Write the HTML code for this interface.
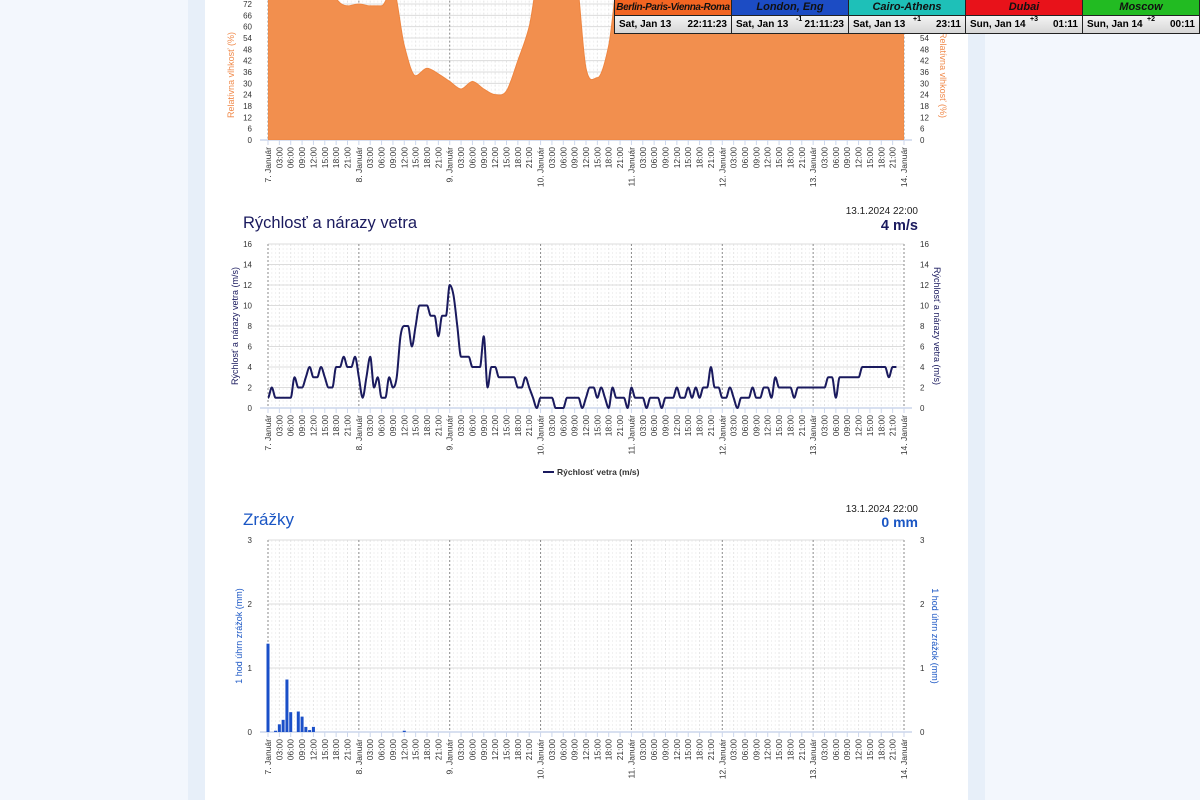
<!DOCTYPE html>
<html><head><meta charset="utf-8">
<style>
html,body{margin:0;padding:0;width:1200px;height:800px;overflow:hidden;background:#f3f7fd;font-family:"Liberation Sans",sans-serif}
#strip{position:absolute;left:188px;top:0;width:797px;height:800px;background:#e7eff9}
#panel{position:absolute;left:205px;top:0;width:763px;height:800px;background:#fff}
svg{position:absolute;left:0;top:0}
#tz{position:absolute;left:614px;top:0;width:586px;height:34px;border:1px solid #222;border-top:none;box-sizing:border-box;display:flex;background:#222}
.col{flex:1;margin-right:1px;display:flex;flex-direction:column}
.col:last-child{margin-right:0}
.hd{height:15px;font:italic bold 11px "Liberation Sans",sans-serif;text-align:center;line-height:15px;color:#111;white-space:nowrap;overflow:hidden}
.rw{flex:1;margin-top:1px;background:linear-gradient(#f4f4f4,#d6d6d6);font:bold 10px "Liberation Sans",sans-serif;display:flex;justify-content:space-between;align-items:center;padding:0 4px;position:relative}
.rw sup{position:absolute;left:64px;top:0;font-size:7px}
</style></head><body>
<div id="strip"></div>
<div id="panel"></div>
<svg id="svg" width="1200" height="800"></svg>
<div id="tz">
 <div class="col"><div class="hd" style="background:#f26522;font-size:10px;letter-spacing:-0.4px">Berlin-Paris-Vienna-Roma</div><div class="rw"><span>Sat, Jan 13</span><span>22:11:23</span></div></div>
 <div class="col"><div class="hd" style="background:#1c4cc4">London, Eng</div><div class="rw"><span>Sat, Jan 13</span><sup>-1</sup><span>21:11:23</span></div></div>
 <div class="col"><div class="hd" style="background:#1ec0b8">Cairo-Athens</div><div class="rw"><span>Sat, Jan 13</span><sup>+1</sup><span>23:11</span></div></div>
 <div class="col"><div class="hd" style="background:#e8121a">Dubai</div><div class="rw"><span>Sun, Jan 14</span><sup>+3</sup><span>01:11</span></div></div>
 <div class="col"><div class="hd" style="background:#22bb22">Moscow</div><div class="rw"><span>Sun, Jan 14</span><sup>+2</sup><span>00:11</span></div></div>
</div>
<script>
// humidity every 3 hours from 7 Jan 00:00
const humidity3h=[90,90,90,90,90,90,75,71,72,71,71,80,50,34,38,35,31,27,31,27,24,26,42,60,90,90,90,90,38,33,50,90,90,90,90,90,90,90,90,90,90,90,90,90,90,90,90,90,90,90,90,90,90,90,90,90,90];
// wind speed hourly
const windSpeed=[1,2,1,1,1,1,1,3,2,2,3,4,3,3,4,3,2,2,4,4,5,4,4,5,
3,1,3,5,2,3,1,1,3,2,3,7,8,8,6,8,10,10,10,9,9,7,9,9,
12,11,8,5,5,5,4,4,4,7,2,4,4,3,3,3,3,3,2,2,3,2,1,0,
1,1,1,1,0,0,0,1,1,1,1,0,1,2,2,1,2,1,0,2,1,1,1,0,
2,1,1,1,0,1,1,1,0,1,1,1,2,1,1,2,1,2,1,2,2,4,2,2,
1,1,2,1,0,1,1,1,2,1,1,2,2,1,3,2,2,2,2,1,2,2,2,2,2,2,2,2,
3,3,1,3,3,3,3,3,3,4,4,4,4,4,4,4,3,4,4];
// precipitation: hour index and mm
const precipHours=[0,2,3,4,5,6,8,9,10,11,12,36];
const precipValues=[1.38,0.02,0.12,0.19,0.82,0.31,0.32,0.24,0.08,0.03,0.08,0.02];
const humTicks=[0,6,12,18,24,30,36,42,48,54,60,66,72,78];
const windTicks=[0,2,4,6,8,10,12,14,16];
const precipTicks=[0,1,2,3];

const NS='http://www.w3.org/2000/svg';
const svg=document.getElementById('svg');
const X0=268,X1=904,HPX=(X1-X0)/168;
const hourX=h=>X0+h*HPX;
function el(tag,attrs,parent){const e=document.createElementNS(NS,tag);for(const k in attrs)e.setAttribute(k,attrs[k]);(parent||svg).appendChild(e);return e;}
function txt(s,attrs,parent){const e=el('text',attrs,parent);e.textContent=s;return e;}
function smooth(p){const n=p.length;const m=[];
  for(let i=0;i<n;i++){if(i===0||i===n-1){m.push(0);continue;}
    const a=(p[i][1]-p[i-1][1])/(p[i][0]-p[i-1][0]),b=(p[i+1][1]-p[i][1])/(p[i+1][0]-p[i][0]);
    m.push(a*b<=0?0:(a+b)/2);}
  let d='M'+p[0][0]+','+p[0][1];
  for(let i=0;i<n-1;i++){const dx=(p[i+1][0]-p[i][0])/3;
    d+=' C'+(p[i][0]+dx)+','+(p[i][1]+m[i]*dx)+' '+(p[i+1][0]-dx)+','+(p[i+1][1]-m[i+1]*dx)+' '+p[i+1][0]+','+p[i+1][1];}
  return d;}
function axes(name,top,bottom,ticks){
  const g=el('g',{});
  
  
  const max=ticks[ticks.length-1];
  const y=v=>bottom-v/max*(bottom-top);
  for(let h=0;h<=168;h++){if(h%24===0)continue;el('line',{x1:hourX(h),x2:hourX(h),y1:top,y2:bottom,stroke:h%3===0?'#e4e4e4':'#f1f1f1','stroke-dasharray':'2,2'},g);}
  ticks.forEach(v=>{el('line',{x1:X0,x2:X1,y1:y(v),y2:y(v),stroke:'#dcdcdc'},g);
    const l=txt(String(v),{x:252,y:y(v)+3,'font-size':8,'text-anchor':'end',fill:'#333'},g);
    
    const r=txt(String(v),{x:920,y:y(v)+3,'font-size':8,fill:'#333'},g);
    });
  for(let d=0;d<=7;d++)el('line',{x1:hourX(d*24),x2:hourX(d*24),y1:top,y2:bottom,stroke:'#8a8a8a','stroke-dasharray':'2,2'},g);
  el('line',{x1:X0-8,x2:X1+8,y1:bottom,y2:bottom,stroke:'#ccd6eb','stroke-width':1.5},g);
  for(let h=0;h<=168;h+=3){
    el('line',{x1:hourX(h),x2:hourX(h),y1:bottom,y2:bottom+5,stroke:'#ccd6eb'},g);
    const s=h%24===0?(7+h/24)+'. Január':String(h%24).padStart(2,'0')+':00';
    const xx=hourX(h)+3, yy=bottom+7;
    const t=txt(s,{x:xx,y:yy,'font-size':8.5,'text-anchor':'end',fill:'#333',transform:'rotate(-90 '+xx+' '+yy+')'},g);
    
  }
  return y;
}
function ytitle(s,x,cy,color,rot){return txt(s,{x:x,y:cy,'font-size':9,'text-anchor':'middle',fill:color,transform:'rotate('+rot+' '+x+' '+cy+')'});}

// Humidity chart
const yH=axes('humidity',140-78*136/72,140,humTicks);
const cp=el('clipPath',{id:'hc'});
el('rect',{x:X0,y:0,width:X1-X0,height:140},cp);
const hp=humidity3h.map((v,i)=>[hourX(i*3),yH(v)]);
const area=el('path',{d:smooth(hp)+' L'+hourX(168)+',140 L'+X0+',140 Z',fill:'#f28f4e',stroke:'#ee8540','clip-path':'url(#hc)'});


let t=ytitle('Relatívna vlhkosť (%)',234,75,'#f08a4b',-90);
t=ytitle('Relatívna vlhkosť (%)',940,75,'#f08a4b',90);

// Wind chart
t=txt('Rýchlosť a nárazy vetra',{x:243,y:228,'font-size':16.5,fill:'#1a1a5e'});
t=txt('13.1.2024 22:00',{x:918,y:214,'font-size':10,'text-anchor':'end',fill:'#222'});
t=txt('4 m/s',{x:918,y:230,'font-size':14.5,'font-weight':'bold','text-anchor':'end',fill:'#1a1a5e'});
const yW=axes('wind',244,408,windTicks);
const wl=el('path',{d:smooth(windSpeed.map((v,i)=>[hourX(i),yW(v)])),fill:'none',stroke:'#1a1a5e','stroke-width':2,'stroke-linejoin':'round'});


t=ytitle('Rýchlosť a nárazy vetra (m/s)',238,326,'#1a1a5e',-90);
t=ytitle('Rýchlosť a nárazy vetra (m/s)',934,326,'#1a1a5e',90);
const lg=el('g',{});


el('line',{x1:543,x2:554,y1:472,y2:472,stroke:'#1a1a5e','stroke-width':2},lg);
txt('Rýchlosť vetra (m/s)',{x:557,y:475,'font-size':8.5,'font-weight':'bold',fill:'#333'},lg);

// Precip chart
t=txt('Zrážky',{x:243,y:525,'font-size':17,fill:'#1a56c4'});
t=txt('13.1.2024 22:00',{x:918,y:512,'font-size':10,'text-anchor':'end',fill:'#222'});
t=txt('0 mm',{x:918,y:527,'font-size':14,'font-weight':'bold','text-anchor':'end',fill:'#1a56c4'});
const yP=axes('precip',540,732,precipTicks);
precipHours.forEach((h,i)=>{const v=precipValues[i];
  const b=el('rect',{x:hourX(h)-1.5,y:yP(v),width:3,height:732-yP(v),fill:'#1a4fc8'});
  
  });
t=ytitle('1 hod úhrn zrážok (mm)',242,636,'#1a56c4',-90);
t=ytitle('1 hod úhrn zrážok (mm)',932,636,'#1a56c4',90);
</script>
</body></html>
